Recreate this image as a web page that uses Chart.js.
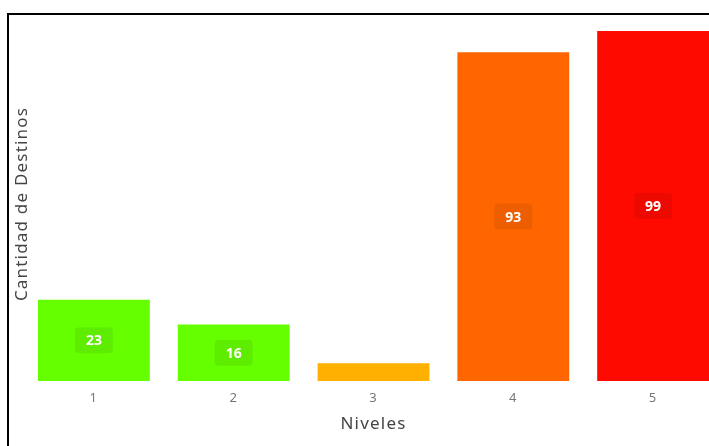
<!DOCTYPE html>
<html>
<head>
<meta charset="utf-8">
<script src="https://cdn.jsdelivr.net/npm/chart.js@4"></script>
<style>
  html, body { margin: 0; padding: 0; overflow: hidden; background: #fff; }
  #wrap { position: relative; width: 709px; height: 446px; overflow: hidden; }
  #frame { position: absolute; left: 7px; top: 13px; width: 760px; height: 500px;
           border-left: 2px solid #000; border-top: 2px solid #000; pointer-events: none; }
  #c { position: absolute; left: 0; top: 0; }
</style>
</head>
<body>
<div id="wrap">
  <canvas id="c" width="730" height="446"></canvas>
  <div id="frame"></div>
</div>
<script>
const niveles = ["1", "2", "3", "4", "5"];
const destinos = [23, 16, 5, 93, 99];
const colores = ["#66ff00", "#66ff00", "#ffb000", "#ff6600", "#ff0a00"];

const fontFam = "'Noto Sans', 'DejaVu Sans', sans-serif";

const spacingPlugin = {
  id: "spacing",
  beforeUpdate(chart) { chart.ctx.letterSpacing = "1.2px"; },
  beforeDraw(chart) { chart.ctx.letterSpacing = "1.2px"; }
};

const labelPlugin = {
  id: "barLabels",
  afterDatasetsDraw(chart) {
    const ctx = chart.ctx;
    const meta = chart.getDatasetMeta(0);
    ctx.save();
    ctx.letterSpacing = "0px";
    ctx.font = "bold 14px " + fontFam;
    ctx.textAlign = "center";
    ctx.textBaseline = "middle";
    meta.data.forEach((bar, i) => {
      const v = destinos[i];
      if (v < 10) return;
      const cy = (bar.y + bar.base) / 2;
      const txt = String(v);
      const w = 38, h = 26;
      ctx.fillStyle = "rgba(0,0,0,0.07)";
      ctx.beginPath();
      ctx.roundRect(bar.x - w / 2, cy - h / 2, w, h, 4);
      ctx.fill();
      ctx.fillStyle = "#ffffff";
      ctx.fillText(txt, bar.x, cy + 1);
    });
    ctx.restore();
  }
};

const yTitlePlugin = {
  id: "yTitle",
  afterDraw(chart) {
    const ctx = chart.ctx;
    ctx.save();
    ctx.letterSpacing = "1.2px";
    ctx.translate(22, 204);
    ctx.rotate(-Math.PI / 2);
    ctx.font = "17px " + fontFam;
    ctx.fillStyle = "#444";
    ctx.textAlign = "center";
    ctx.textBaseline = "middle";
    ctx.fillText("Cantidad de Destinos", 0, 0);
    ctx.restore();
  }
};

new Chart(document.getElementById("c"), {
  type: "bar",
  data: {
    labels: niveles,
    datasets: [{
      data: destinos,
      backgroundColor: colores,
      borderWidth: 0,
      barPercentage: 0.8,
      categoryPercentage: 1.0
    }]
  },
  options: {
    responsive: false,
    animation: false,
    layout: { padding: { left: 24, right: 7, top: 31, bottom: 12 } },
    plugins: { legend: { display: false }, tooltip: { enabled: false } },
    scales: {
      x: {
        grid: { display: false },
        border: { display: false },
        ticks: { padding: 1, color: "#777", font: { size: 13, family: fontFam } },
        title: {
          display: true, text: "Niveles", color: "#444",
          padding: { top: 7, bottom: 0 },
          font: { size: 17, family: fontFam }
        }
      },
      y: {
        display: false,
        min: 0,
        max: 99
      }
    }
  },
  plugins: [spacingPlugin, labelPlugin, yTitlePlugin]
});
</script>
</body>
</html>
